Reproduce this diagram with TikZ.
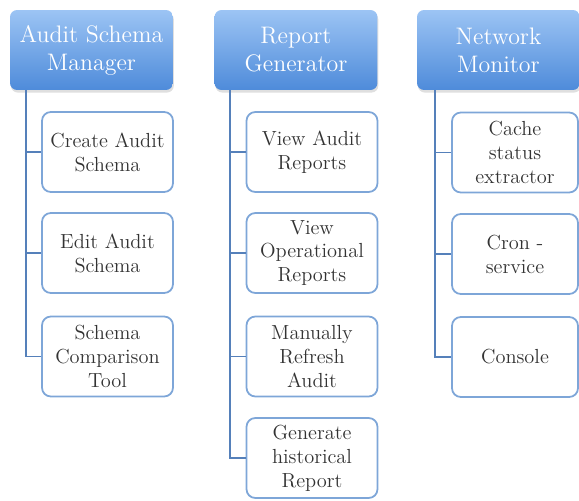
\documentclass[tikz,border=0pt]{standalone}
\usepackage{xcolor}
\usetikzlibrary{positioning, shadows}

\definecolor{hdrtop}{HTML}{9CC4F4}
\definecolor{hdrbot}{HTML}{4E8BDA}
\definecolor{boxline}{HTML}{7EA6D8}
\definecolor{trunk}{HTML}{5580BA}

\begin{document}
\begin{tikzpicture}[
  x=0.02cm, y=-0.02cm,
  header/.style={
    rectangle,
    draw=none,
    top color=hdrtop,
    bottom color=hdrbot,
    minimum width=3.26cm,
    minimum height=1.6cm,
    rounded corners=4pt,
    drop shadow={opacity=0.25, shadow xshift=0.5pt, shadow yshift=-1.5pt},
    text=white,
    font=\fontsize{13.6}{16}\selectfont,
    align=center
  },
  task/.style={
    rectangle,
    draw=boxline,
    line width=1pt,
    fill=white,
    minimum width=2.62cm,
    minimum height=1.6cm,
    rounded corners=5pt,
    text=black!80,
    font=\fontsize{11.6}{13.6}\selectfont,
    align=center
  },
  link/.style={
    draw=trunk,
    line width=1pt
  }
]
\useasboundingbox (0,0) rectangle (579,501);

% Column headers
\node[header] (asm) at (91.5,50) {Audit Schema\\Manager};
\node[header] (rg) at (296,50) {Report\\Generator};
\node[header] (nm) at (498.5,50) {Network\\Monitor};

% Audit schema manager tasks
\node[task] (cas) at (107.5,152) {Create Audit\\Schema};
\node[task] (eas) at (107.5,253) {Edit Audit\\Schema};
\node[task] (sct) at (107.5,356.5) {Schema\\Comparison\\Tool};

% Report generator tasks
\node[task] (var) at (312,152) {View Audit\\Reports};
\node[task] (vor) at (312,253) {View\\Operational\\Reports};
\node[task] (mra) at (312,356.5) {Manually\\Refresh\\Audit};
\node[task] (ghr) at (312,458) {Generate\\historical\\Report};

% Network monitor tasks
\node[task, minimum width=2.52cm] (cse) at (515,152.5) {Cache\\status\\extractor};
\node[task, minimum width=2.52cm] (crs) at (515,254) {Cron -\\service};
\node[task, minimum width=2.52cm] (con) at (515,357) {Console};

% Trunk points under the headers
\coordinate (asmT) at (26,90);
\coordinate (rgT) at (230,90);
\coordinate (nmT) at (435,90);

% Tree connectors
\draw[link] (asmT) |- (cas.west);
\draw[link] (asmT) |- (eas.west);
\draw[link] (asmT) |- (sct.west);

\draw[link] (rgT) |- (var.west);
\draw[link] (rgT) |- (vor.west);
\draw[link] (rgT) |- (mra.west);
\draw[link] (rgT) |- (ghr.west);

\draw[link] (nmT) |- (cse.west);
\draw[link] (nmT) |- (crs.west);
\draw[link] (nmT) |- (con.west);
\end{tikzpicture}
\end{document}
